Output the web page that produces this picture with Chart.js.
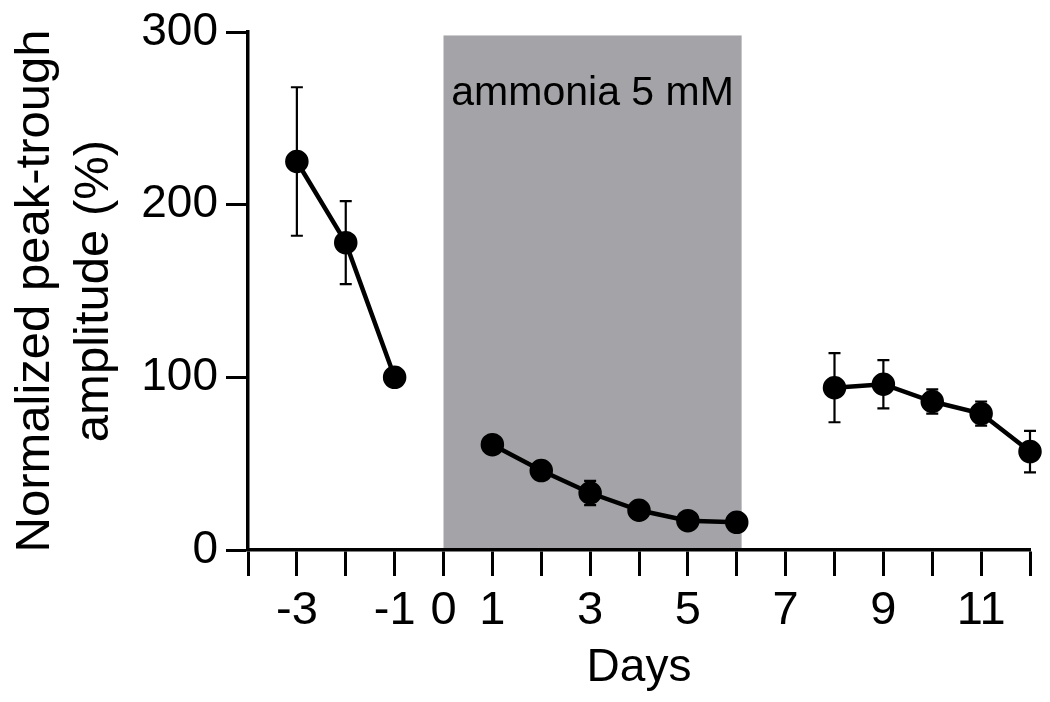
<!DOCTYPE html>
<html>
<head>
<meta charset="utf-8">
<title>Peak-trough amplitude</title>
<script src="https://cdn.jsdelivr.net/npm/chart.js@4.4.1/dist/chart.umd.min.js"></script>
<style>
	html, body { margin: 0; padding: 0; background: #fff; }
	#wrap { width: 1050px; height: 702px; position: relative; }
</style>
</head>
<body>
<div id="wrap"><canvas id="amplitudeChart"></canvas></div>
<script>
// values (mean and SEM)
const days = [-3, -2, -1, 1, 2, 3, 4, 5, 6, 8, 9, 10, 11, 12];
const amplitude = [225, 178, 100, 61, 46, 33, 23, 17, 16, 94, 96, 86, 79, 57];
const sem = [43, 24, 0, 4, 5, 7, 3, 2, 2, 20, 14, 7, 7, 12];
const segment = [0, 0, 0, 1, 1, 1, 1, 1, 1, 2, 2, 2, 2, 2]; // before / during / after ammonia
const xTickLabels = [-3, -1, 0, 1, 3, 5, 7, 9, 11];
const treatmentStart = 0;
const treatmentEnd = 6.1;
const treatmentLabel = 'ammonia 5 mM';

document.addEventListener('DOMContentLoaded', function() {

	Chart.defaults.font.family = '"Liberation Sans", Arial, sans-serif';
	Chart.defaults.color = '#000';

	createAmplitudeChart();

});

// grey box for the ammonia period, drawn under the axes
const treatmentBox = {

	id: 'treatmentBox',

	beforeDraw(chart) {

		const { ctx, scales: { x, y } } = chart;

		const left = x.getPixelForValue(treatmentStart);

		const right = x.getPixelForValue(treatmentEnd);

		const top = y.getPixelForValue(298);

		const bottom = y.getPixelForValue(0);

		ctx.save();

		ctx.fillStyle = '#a4a4a8';

		ctx.fillRect(left, top, right - left, bottom - top);

		ctx.fillStyle = '#000';

		ctx.font = '41px "Liberation Sans", Arial, sans-serif';

		ctx.textAlign = 'center';

		ctx.textBaseline = 'alphabetic';

		ctx.fillText(treatmentLabel, (left + right) / 2, y.getPixelForValue(258));

		ctx.restore();

	}

};

const errorBars = {

	id: 'errorBars',

	beforeDatasetsDraw(chart) {

		const { ctx, scales: { x, y } } = chart;

		ctx.save();

		ctx.strokeStyle = '#000';

		ctx.lineWidth = 2.2;

		days.forEach((d, i) => {

			if (!sem[i]) return;

			const px = x.getPixelForValue(d);

			const top = y.getPixelForValue(amplitude[i] + sem[i]);

			const bottom = y.getPixelForValue(amplitude[i] - sem[i]);

			ctx.beginPath();

			ctx.moveTo(px, top);
			ctx.lineTo(px, bottom);

			ctx.moveTo(px - 6, top);
			ctx.lineTo(px + 6, top);

			ctx.moveTo(px - 6, bottom);
			ctx.lineTo(px + 6, bottom);

			ctx.stroke();

		});

		ctx.restore();

	}

};

function segmentData(s) {

	return days
		.map((d, i) => ({ x: d, y: amplitude[i], s: segment[i] }))
		.filter(p => p.s === s);

}

function createAmplitudeChart() {

	const ctx = document.getElementById('amplitudeChart').getContext('2d');

	const lineStyle = {

		borderColor: '#000',

		backgroundColor: '#000',

		borderWidth: 4.5,

		pointRadius: 11,

		pointBorderWidth: 1.5,

		pointBackgroundColor: '#000',

		pointBorderColor: '#000',

		tension: 0,

		clip: false

	};

	new Chart(ctx, {

		type: 'line',

		data: {

			datasets: [0, 1, 2].map(s => Object.assign({ label: 'segment ' + s, data: segmentData(s) }, lineStyle))

		},

		options: {

			responsive: true,

			maintainAspectRatio: false,

			animation: false,

			layout: {

				padding: { top: 32, right: 20, left: 0, bottom: 0 }

			},

			plugins: {

				legend: { display: false },

				tooltip: { enabled: false }

			},

			scales: {

				x: {

					type: 'linear',

					min: -4,

					max: 12,

					afterFit: scale => { scale.height = 152; },

					grid: { drawOnChartArea: false, drawTicks: true, tickLength: 26, tickWidth: 3, tickColor: '#000' },

					border: { display: true, color: '#000', width: 3.5 },

					ticks: {

						stepSize: 1,

						autoSkip: false,

						maxRotation: 0,

						padding: 7,

						font: { size: 47 },

						callback: v => xTickLabels.includes(v) ? String(v) : ''

					},

					title: { display: true, text: 'Days', font: { size: 46 }, padding: { top: 0, bottom: 6 } }

				},

				y: {

					min: 0,

					max: 300,

					afterFit: scale => { scale.width = 248; },

					grid: { drawOnChartArea: false, drawTicks: true, tickLength: 22, tickWidth: 3, tickColor: '#000' },

					border: { display: true, color: '#000', width: 3.5 },

					ticks: { stepSize: 100, padding: 8, font: { size: 46, lineHeight: 1 } },

					title: {

						display: true,

						text: ['Normalized peak-trough', 'amplitude (%)'],

						font: { size: 49 },

						padding: { top: 6, bottom: 0 }

					}

				}

			}

		},

		plugins: [treatmentBox, errorBars]

	});

}
</script>
</body>
</html>
